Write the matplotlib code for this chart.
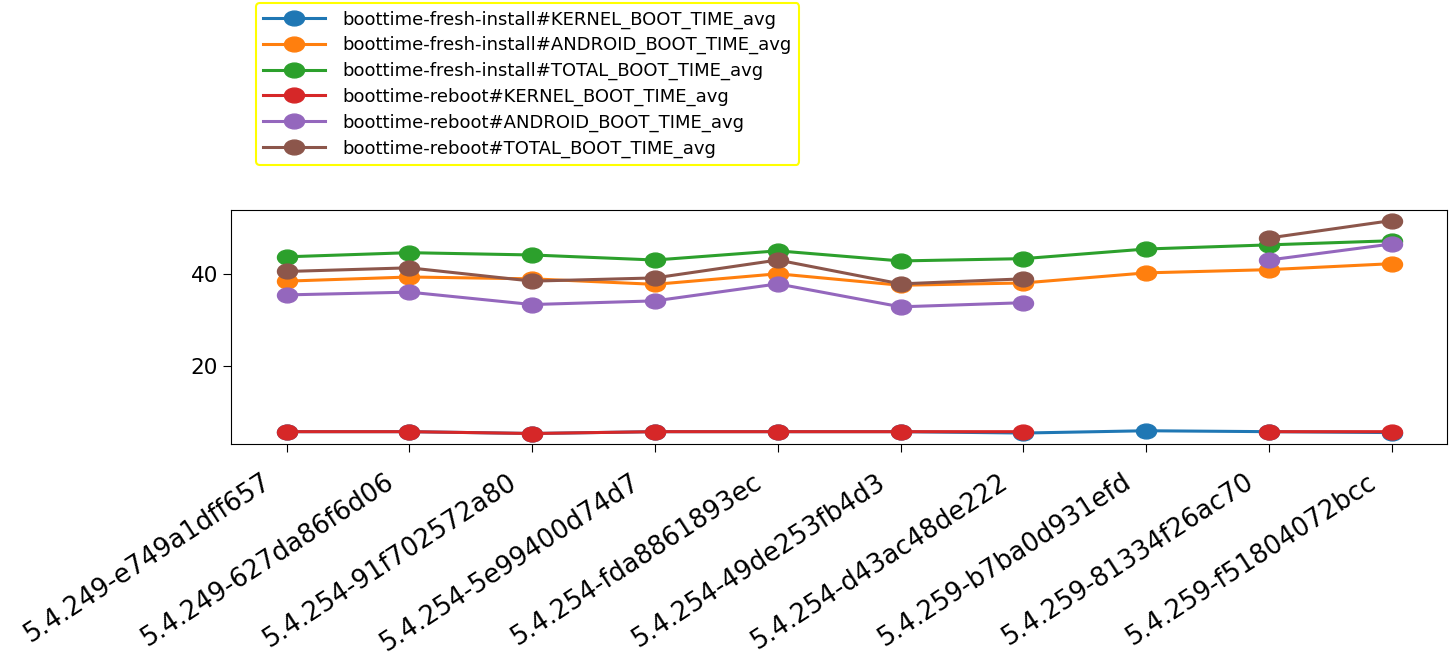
import numpy as np
import matplotlib
matplotlib.use("Agg")
import matplotlib.pyplot as plt
from matplotlib.path import Path
from matplotlib.transforms import Affine2D, ScaledTranslation

builds = ["5.4.249-e749a1dff657", "5.4.249-627da86f6d06", "5.4.254-91f702572a80",
          "5.4.254-5e99400d74d7", "5.4.254-fda8861893ec", "5.4.254-49de253fb4d3",
          "5.4.254-d43ac48de222", "5.4.259-b7ba0d931efd", "5.4.259-81334f26ac70",
          "5.4.259-f51804072bcc"]

nan = np.nan
fresh_kernel = [5.6, 5.6, 5.2, 5.6, 5.6, 5.6, 5.3, 5.8, 5.6, 5.4]
fresh_android = [38.4, 39.3, 38.9, 37.7, 40.0, 37.5, 38.0, 40.2, 40.9, 42.2]
fresh_total = [43.7, 44.6, 44.1, 43.0, 45.0, 42.8, 43.3, 45.4, 46.3, 47.2]
reboot_kernel = [5.6, 5.6, 5.2, 5.6, 5.6, 5.6, 5.6, nan, 5.6, 5.6]
reboot_android = [35.4, 36.0, 33.3, 34.1, 37.8, 32.8, 33.7, nan, 43.0, 46.5]
reboot_total = [40.5, 41.3, 38.4, 39.1, 43.0, 37.8, 38.9, nan, 47.8, 51.6]

series = [
    ("boottime-fresh-install#KERNEL_BOOT_TIME_avg", fresh_kernel),
    ("boottime-fresh-install#ANDROID_BOOT_TIME_avg", fresh_android),
    ("boottime-fresh-install#TOTAL_BOOT_TIME_avg", fresh_total),
    ("boottime-reboot#KERNEL_BOOT_TIME_avg", reboot_kernel),
    ("boottime-reboot#ANDROID_BOOT_TIME_avg", reboot_android),
    ("boottime-reboot#TOTAL_BOOT_TIME_avg", reboot_total),
]

# slightly wide elliptical marker
ellipse = Path.unit_circle().transformed(Affine2D().scale(1.35, 1.0))

fig = plt.figure(figsize=(14.55, 6.58), dpi=100)
ax = fig.add_axes([0.159, 0.325, 0.8355, 0.356])
x = np.arange(len(builds))
for label, vals in series:
    ax.plot(x, vals, marker=ellipse, markersize=14.4, linewidth=2.2, label=label)

ax.set_yticks([20, 40])
ax.tick_params(axis="y", labelsize=15.5)
ax.tick_params(axis="both", length=6)
ax.tick_params(axis="x", pad=20)

ax.set_xticks(x)
ax.set_xticklabels(builds, rotation=33, ha="right", va="center",
                   rotation_mode="anchor", fontsize=18.5)
shift = ScaledTranslation(-18 / 100, 0, fig.dpi_scale_trans)
for t in ax.get_xticklabels():
    t.set_transform(t.get_transform() + shift)

leg = fig.legend(loc="upper left", bbox_to_anchor=(0.176, 0.9954), fontsize=13,
                 frameon=True, framealpha=1, handlelength=3.4, handletextpad=1.0,
                 labelspacing=0.42, borderaxespad=0)
leg.get_frame().set_edgecolor("yellow")
leg.get_frame().set_linewidth(1.5)

fig.savefig("out.png", dpi=100)
